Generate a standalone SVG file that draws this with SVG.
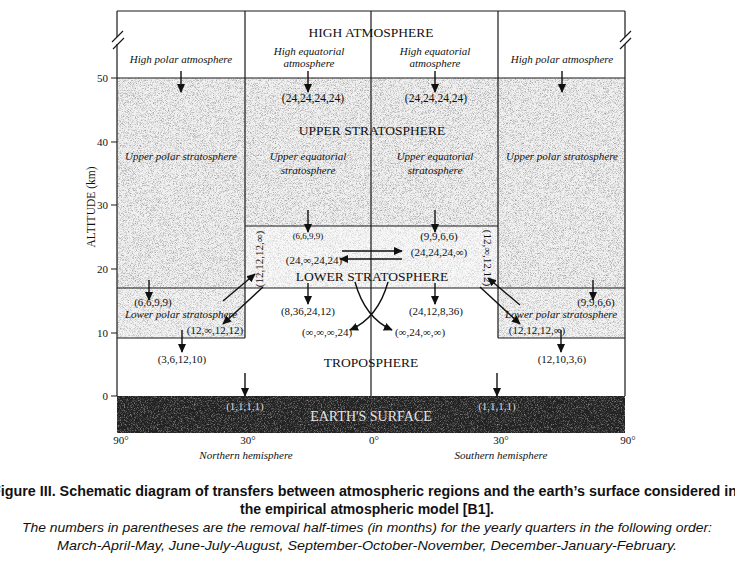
<svg xmlns="http://www.w3.org/2000/svg" width="735" height="563" viewBox="0 0 735 563">
<defs>
<style>
.ln{stroke:#1a1a1a;stroke-width:1.2;fill:none}
.ar{stroke:#111;stroke-width:1.4;fill:none;marker-end:url(#ah)}
.big{font-family:"Liberation Serif","Times New Roman",serif;font-size:13.5px;fill:#111;text-anchor:middle}
.it{font-family:"Liberation Serif","Times New Roman",serif;font-style:italic;font-size:11px;fill:#111;text-anchor:middle}
.num{font-family:"Liberation Serif","Times New Roman",serif;font-size:11px;fill:#111;text-anchor:middle}
.ax{font-family:"Liberation Serif","Times New Roman",serif;font-size:11px;fill:#111}
.cap{font-family:"Liberation Sans",Arial,sans-serif;font-size:14px;font-weight:bold;fill:#111}
.capi{font-family:"Liberation Sans",Arial,sans-serif;font-size:13.5px;font-style:italic;fill:#111}
</style>
<marker id="ah" viewBox="0 0 10 10" refX="9" refY="5" markerWidth="9" markerHeight="9" markerUnits="userSpaceOnUse" orient="auto">
<path d="M0,0.5 L10,5 L0,9.5 z" fill="#111"/>
</marker>
<filter id="stip" x="0" y="0" width="1" height="1" color-interpolation-filters="sRGB">
<feTurbulence type="fractalNoise" baseFrequency="1.4" numOctaves="1" seed="7" result="t"/>
<feColorMatrix in="t" type="matrix" values="0 0 0 0 0.5  0 0 0 0 0.5  0 0 0 0 0.5  2.2 0 0 0 -1.02" result="d"/>
<feComposite in="d" in2="SourceAlpha" operator="in"/>
</filter>
<filter id="dark" x="0" y="0" width="1" height="1" color-interpolation-filters="sRGB">
<feTurbulence type="fractalNoise" baseFrequency="1.3" numOctaves="1" seed="3" result="t"/>
<feColorMatrix in="t" type="matrix" values="0 0 0 0 0.6  0 0 0 0 0.6  0 0 0 0 0.6  2.6 0 0 0 -1.25" result="d"/>
<feComposite in="d" in2="SourceAlpha" operator="in"/>
</filter>
</defs>
<rect width="735" height="563" fill="#ffffff"/>

<g id="upper-stratosphere">
<path d="M117,78 H625 V288 H498 V226 H245 V288 H117 Z" fill="#f1f1f1"/>
<path d="M117,78 H625 V288 H498 V226 H245 V288 H117 Z" fill="#000" filter="url(#stip)"/>
<text class="big" x="372" y="135">UPPER STRATOSPHERE</text>
<text class="it" x="181" y="160">Upper polar stratosphere</text>
<text class="it" x="308" y="160">Upper equatorial</text>
<text class="it" x="308" y="174">stratosphere</text>
<text class="it" x="435" y="160">Upper equatorial</text>
<text class="it" x="435" y="174">stratosphere</text>
<text class="it" x="562" y="160">Upper polar stratosphere</text>
</g>

<g id="lower-stratosphere">
<rect x="245" y="226" width="253" height="62" fill="#f8f8f8"/>
<rect x="245" y="226" width="253" height="62" fill="#000" filter="url(#stip)" opacity="0.5"/>
<text class="big" x="372" y="281">LOWER STRATOSPHERE</text>
</g>

<g id="lower-polar-north">
<rect x="117" y="288" width="128" height="50" fill="#f3f3f3"/>
<rect x="117" y="288" width="128" height="50" fill="#000" filter="url(#stip)" opacity="0.85"/>
<text class="it" x="181" y="318">Lower polar stratosphere</text>
</g>

<g id="lower-polar-south">
<rect x="498" y="288" width="127" height="50" fill="#f3f3f3"/>
<rect x="498" y="288" width="127" height="50" fill="#000" filter="url(#stip)" opacity="0.85"/>
<text class="it" x="561" y="318">Lower polar stratosphere</text>
</g>

<g id="earth-surface">
<rect x="117" y="396" width="508" height="37" fill="#222"/>
<rect x="117" y="396" width="508" height="37" fill="#000" filter="url(#dark)"/>
<text class="big" x="371" y="421" style="fill:#e4e4e4;font-size:14px">EARTH'S SURFACE</text>
</g>

<g id="frame">
<path class="ln" d="M117,11 H625 M117,11 V37 M117,44 V396 M625,11 V37 M625,44 V396 M117,78 H625 M245,11 V338 M498,11 V338 M371,11 V396 M245,226 H498 M117,288 H625 M117,338 H245 M498,338 H625"/>
<path class="ln" d="M112,42 L123,31 M113,49 L124,38 M620,42 L631,31 M620,49 L631,38"/>
</g>

<g id="high-atmosphere">
<text class="big" x="371" y="37">HIGH ATMOSPHERE</text>
<text class="it" x="181" y="63">High polar atmosphere</text>
<text class="it" x="309" y="55">High equatorial</text>
<text class="it" x="309" y="67">atmosphere</text>
<text class="it" x="435" y="55">High equatorial</text>
<text class="it" x="435" y="67">atmosphere</text>
<text class="it" x="562" y="63">High polar atmosphere</text>
</g>

<g id="troposphere">
<text class="big" x="371" y="367">TROPOSPHERE</text>
</g>

<g id="axes">
<path class="ln" d="M111,78 H117 M111,142 H117 M111,205 H117 M111,269 H117 M111,333 H117 M111,396 H117"/>
<text class="ax" x="108" y="82" text-anchor="end">50</text>
<text class="ax" x="108" y="146" text-anchor="end">40</text>
<text class="ax" x="108" y="209" text-anchor="end">30</text>
<text class="ax" x="108" y="273" text-anchor="end">20</text>
<text class="ax" x="108" y="337" text-anchor="end">10</text>
<text class="ax" x="108" y="400" text-anchor="end">0</text>
<text class="ax" transform="translate(95,207) rotate(-90)" text-anchor="middle" style="font-size:11.5px">ALTITUDE (km)</text>
<text class="num" x="121" y="444">90°</text>
<text class="num" x="248" y="444">30°</text>
<text class="num" x="374" y="444">0°</text>
<text class="num" x="501" y="444">30°</text>
<text class="num" x="628" y="444">90°</text>
<text class="it" x="246" y="459">Northern hemisphere</text>
<text class="it" x="501" y="459">Southern hemisphere</text>
</g>

<g id="connectors">
<path class="ar" d="M181,71 V92"/>
<path class="ar" d="M308,71 V92"/>
<path class="ar" d="M435,71 V92"/>
<path class="ar" d="M562,71 V92"/>
<path class="ar" d="M308,210 V232"/>
<path class="ar" d="M435,210 V232"/>
<path class="ar" d="M149,280 V300"/>
<path class="ar" d="M308,283 V304"/>
<path class="ar" d="M435,283 V304"/>
<path class="ar" d="M593,280 V300"/>
<path class="ar" d="M182,330 V352"/>
<path class="ar" d="M561,330 V352"/>
<path class="ar" d="M245,373 V396"/>
<path class="ar" d="M497,373 V396"/>
<path class="ar" d="M342,251 H402"/>
<path class="ar" d="M402,259 H340"/>
<path class="ar" d="M223,301 L255,274"/>
<path class="ar" d="M263,287 L223,324"/>
<path class="ar" d="M520,305 L488,278"/>
<path class="ar" d="M480,287 L520,324"/>
<path class="ar" d="M355,282 Q365,318 392,330"/>
<path class="ar" d="M388,282 Q378,318 350,330"/>
<text class="num" x="313" y="102" style="font-size:11.5px">(24,24,24,24)</text>
<text class="num" x="436" y="102" style="font-size:11.5px">(24,24,24,24)</text>
<text class="num" x="308" y="239" style="font-size:9px">(6,6,9,9)</text>
<text class="num" x="439" y="240">(9,9,6,6)</text>
<text class="num" x="439" y="256">(24,24,24,∞)</text>
<text class="num" x="314" y="264">(24,∞,24,24)</text>
<text class="num" transform="translate(263,259) rotate(-90)">(12,12,12,∞)</text>
<text class="num" transform="translate(484,258) rotate(90)">(12,∞,12,12)</text>
<text class="num" x="153" y="306">(6,6,9,9)</text>
<text class="num" x="215" y="334">(12,∞,12,12)</text>
<text class="num" x="182" y="363">(3,6,12,10)</text>
<text class="num" x="308" y="315">(8,36,24,12)</text>
<text class="num" x="436" y="315">(24,12,8,36)</text>
<text class="num" x="327" y="336">(∞,∞,∞,24)</text>
<text class="num" x="420" y="336">(∞,24,∞,∞)</text>
<text class="num" x="596" y="306">(9,9,6,6)</text>
<text class="num" x="537" y="334">(12,12,12,∞)</text>
<text class="num" x="562" y="363">(12,10,3,6)</text>
<text class="num" x="245" y="410" style="fill:#d8d8d8">(1,1,1,1)</text>
<text class="num" x="497" y="410" style="fill:#d8d8d8">(1,1,1,1)</text>
</g>

<g id="caption">
<text class="cap" x="-8" y="496" textLength="745" lengthAdjust="spacingAndGlyphs">Figure III.  Schematic diagram of transfers between atmospheric regions and the earth’s surface considered in</text>
<text class="cap" x="240" y="514" textLength="254" lengthAdjust="spacingAndGlyphs">the empirical atmospheric model [B1].</text>
<text class="capi" x="22" y="532" textLength="690" lengthAdjust="spacingAndGlyphs">The numbers in parentheses are the removal half-times (in months) for the yearly quarters in the following order:</text>
<text class="capi" x="57" y="550" textLength="620" lengthAdjust="spacingAndGlyphs">March-April-May, June-July-August, September-October-November, December-January-February.</text>
</g>
</svg>
